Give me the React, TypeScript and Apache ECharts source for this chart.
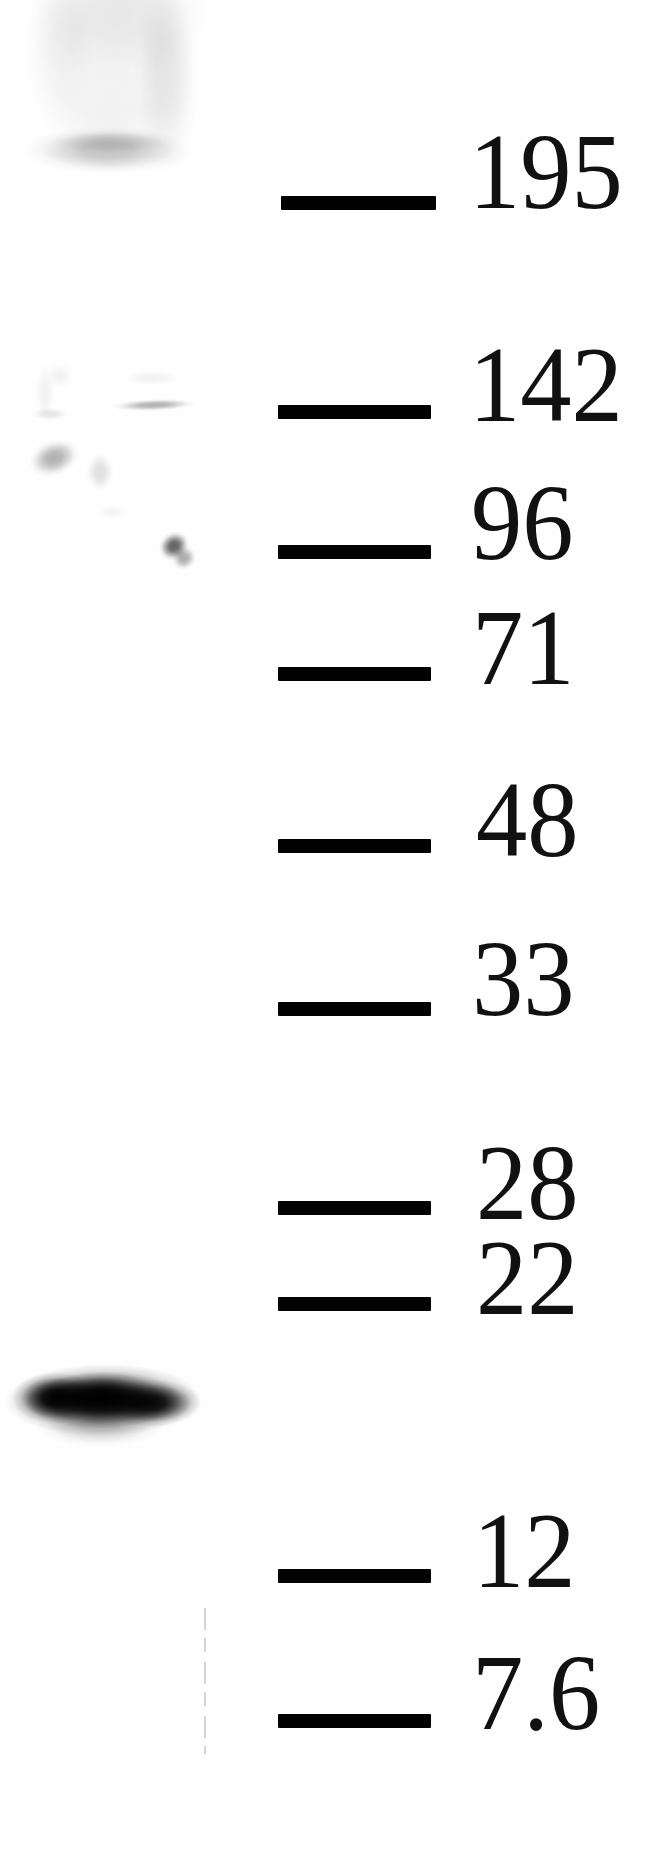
import React, { useEffect, useRef } from "react";
import * as echarts from "echarts";

const WIDTH = 650;
const HEIGHT = 1857;

// Molecular-weight ladder (kDa) and where each marker migrated to
const ladderLabels = ["195", "142", "96", "71", "48", "33", "28", "22", "12", "7.6"];
const ladderY = [203, 412, 552, 674, 846, 1009, 1208, 1304, 1576, 1721];
const ladderStart = [281, 278, 278, 278, 278, 278, 278, 278, 278, 278];
const ladderEnd = [436, 431, 431, 431, 431, 431, 431, 431, 431, 431];
const labelBaseline = [208, 421, 559, 684, 856, 1015, 1219, 1314, 1587, 1729];
const labelX = [469, 469, 471, 472, 476, 472, 476, 476, 473, 472];

// Signal blobs on the blot
const blotX = [118, 62, 166, 110, 108, 112, 154, 60, 50, 45, 152, 54, 100, 112, 174, 184, 103, 56, 100, 150, 100];
const blotY = [15, 50, 75, 110, 150, 142, 405, 376, 414, 392, 378, 458, 472, 512, 546, 558, 1400, 1398, 1398, 1403, 1425];
const blotRx = [90, 38, 34, 72, 84, 66, 42, 14, 20, 10, 30, 26, 14, 14, 16, 13, 98, 44, 64, 52, 66];
const blotRy = [85, 85, 100, 60, 24, 12, 6, 14, 7, 30, 8, 18, 20, 7, 14, 12, 36, 26, 26, 24, 22];
const blotDensity = [0.09, 0.05, 0.09, 0.05, 0.22, 0.1, 0.3, 0.05, 0.09, 0.05, 0.05, 0.3, 0.12, 0.04, 0.62, 0.32, 0.9, 1, 1, 0.95, 0.2];
const blotAngle = [0, 0, 0, 0, 0, 0, -2, 0, 0, 0, 0, -20, 0, 0, -35, -35, -1, 0, 0, 0, 0];

// Faint scratch next to the lowest markers
const scratchX = [205];
const scratchY = [[1608, 1754]];

const FONT_SIZE = 108;

export default function App() {
  const ref = useRef<HTMLDivElement>(null);
  useEffect(() => {
    const chart = echarts.init(ref.current!, undefined, { renderer: "svg" });
    chart.setOption({
      animation: false,
      backgroundColor: "#fefefe",
      grid: { left: 0, right: 0, top: 0, bottom: 0 },
      xAxis: { type: "value", min: 0, max: WIDTH, show: false },
      yAxis: { type: "value", min: 0, max: HEIGHT, inverse: true, show: false },
      series: [
        {
          type: "custom",
          name: "blot",
          silent: true,
          clip: false,
          coordinateSystem: "cartesian2d",
          data: blotX.map((x, i) => [x, blotY[i], blotRx[i], blotRy[i], blotDensity[i], blotAngle[i]]),
          renderItem: (_: any, api: any) => {
            const c = api.coord([api.value(0), api.value(1)]);
            const s = api.size([api.value(2), api.value(3)]);
            const d = api.value(4);
            const col = (a: number) => `rgba(0,0,0,${a})`;
            return {
              type: "circle",
              x: c[0],
              y: c[1],
              rotation: (-api.value(5) * Math.PI) / 180,
              scaleX: s[0] / 100,
              scaleY: s[1] / 100,
              shape: { cx: 0, cy: 0, r: 100 },
              style: {
                fill: new echarts.graphic.RadialGradient(0.5, 0.5, 0.5, [
                  { offset: 0, color: col(d) },
                  { offset: 0.3, color: col(d * 0.9) },
                  { offset: 0.55, color: col(d * 0.55) },
                  { offset: 0.8, color: col(d * 0.14) },
                  { offset: 1, color: col(0) },
                ]),
              },
            };
          },
        },
        {
          type: "custom",
          name: "scratch",
          silent: true,
          clip: false,
          coordinateSystem: "cartesian2d",
          data: scratchX.map((x, i) => [x, scratchY[i][0], scratchY[i][1]]),
          renderItem: (_: any, api: any) => {
            const a = api.coord([api.value(0), api.value(1)]);
            const b = api.coord([api.value(0), api.value(2)]);
            return {
              type: "line",
              shape: { x1: a[0], y1: a[1], x2: b[0], y2: b[1] },
              style: { stroke: "#c8c8c8", lineWidth: 1.5, lineDash: [22, 8, 14, 10] },
            };
          },
        },
        {
          type: "custom",
          name: "ladder",
          silent: true,
          clip: false,
          coordinateSystem: "cartesian2d",
          data: ladderLabels.map((_, i) => [ladderStart[i], ladderEnd[i], ladderY[i], labelX[i], labelBaseline[i]]),
          renderItem: (params: any, api: any) => {
            const a = api.coord([api.value(0), api.value(2)]);
            const b = api.coord([api.value(1), api.value(2)]);
            const t = api.coord([api.value(3), api.value(4)]);
            return {
              type: "group",
              children: [
                {
                  type: "rect",
                  shape: { x: a[0], y: a[1] - 7, width: b[0] - a[0], height: 14, r: 1 },
                  style: { fill: "#020202" },
                },
                {
                  type: "text",
                  x: t[0],
                  y: t[1] - 0.3375 * FONT_SIZE,
                  scaleX: 0.95,
                  style: {
                    text: ladderLabels[params.dataIndex],
                    font: `${FONT_SIZE}px "Liberation Serif"`,
                    fill: "#111111",
                    align: "left",
                    verticalAlign: "middle",
                  },
                },
              ],
            };
          },
        },
      ],
    });
    return () => chart.dispose();
  }, []);
  return (
    <div
      ref={ref}
      style={{ position: "absolute", left: 0, top: 0, width: WIDTH, height: HEIGHT, overflow: "hidden" }}
    />
  );
}
